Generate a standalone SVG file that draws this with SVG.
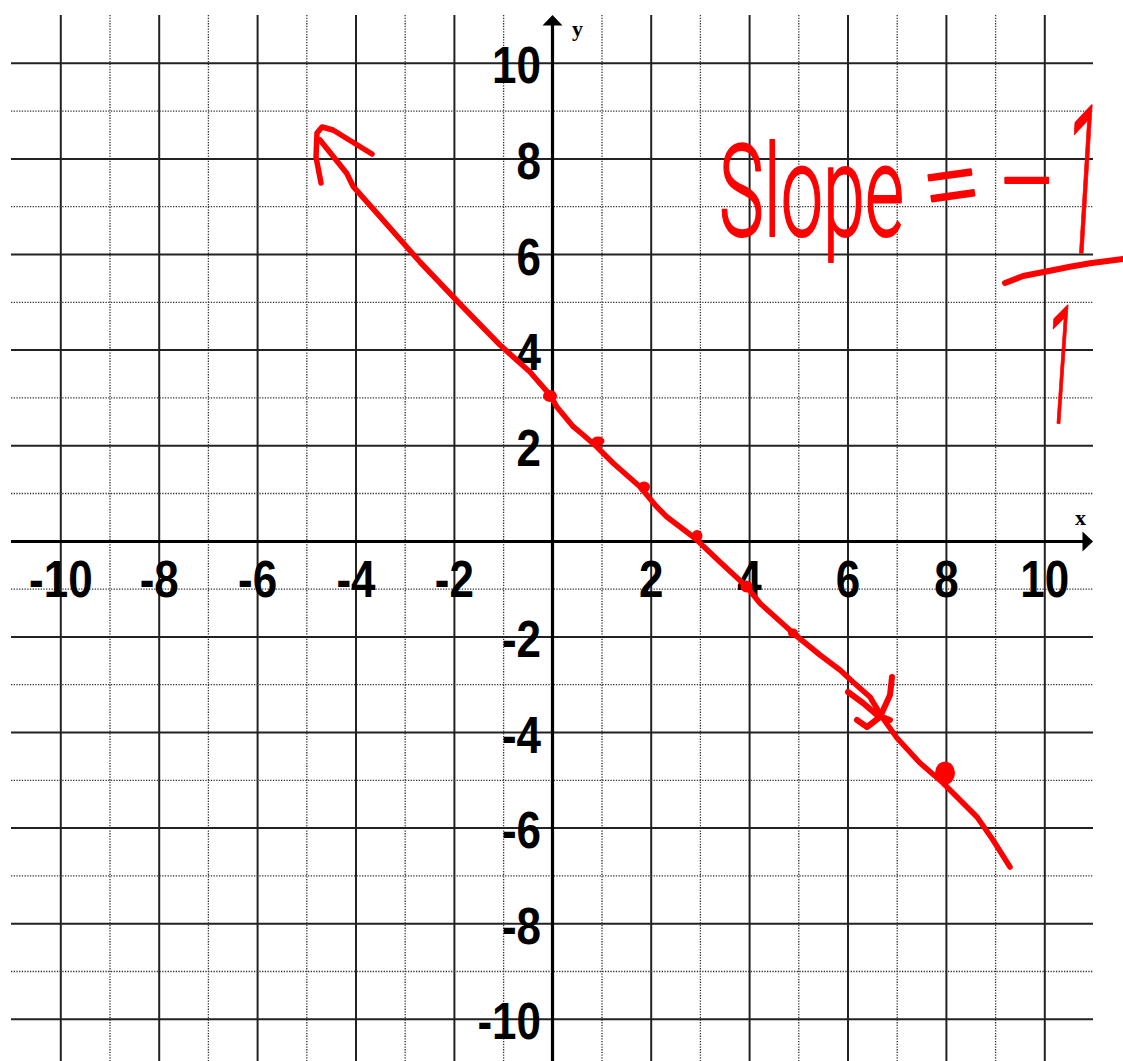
<svg xmlns="http://www.w3.org/2000/svg" width="1123" height="1061" viewBox="0 0 1123 1061">
<style>
.s{stroke:#222;stroke-width:2;fill:none}
.d{stroke:#333;stroke-width:1.3;stroke-dasharray:1.3 1.4;fill:none}
.ax{stroke:#000;stroke-width:3.2;fill:none}
.lbl{font-family:"Liberation Sans",Arial,sans-serif;font-weight:bold;font-size:44px;fill:#000}
.axl{font-family:"Liberation Serif","Times New Roman",serif;font-weight:bold;font-size:22px;fill:#000}
.red{fill:none;stroke:#f00;stroke-width:6;stroke-linecap:round;stroke-linejoin:round}
.dot{fill:#f00}
.hw{font-family:Roboto,"Liberation Sans",sans-serif;font-weight:300;fill:#f00;stroke:#f00;stroke-width:2;stroke-linejoin:round}
</style>
<rect width="1123" height="1061" fill="#fff"/>
<g id="grid">
<line class="s" x1="60.8" y1="15" x2="60.8" y2="1061"/>
<line class="d" x1="110" y1="15" x2="110" y2="1061"/>
<line class="s" x1="159.2" y1="15" x2="159.2" y2="1061"/>
<line class="d" x1="208.4" y1="15" x2="208.4" y2="1061"/>
<line class="s" x1="257.6" y1="15" x2="257.6" y2="1061"/>
<line class="d" x1="306.8" y1="15" x2="306.8" y2="1061"/>
<line class="s" x1="356" y1="15" x2="356" y2="1061"/>
<line class="d" x1="405.2" y1="15" x2="405.2" y2="1061"/>
<line class="s" x1="454.4" y1="15" x2="454.4" y2="1061"/>
<line class="d" x1="503.6" y1="15" x2="503.6" y2="1061"/>
<line class="d" x1="602" y1="15" x2="602" y2="1061"/>
<line class="s" x1="651.2" y1="15" x2="651.2" y2="1061"/>
<line class="d" x1="700.4" y1="15" x2="700.4" y2="1061"/>
<line class="s" x1="749.6" y1="15" x2="749.6" y2="1061"/>
<line class="d" x1="798.8" y1="15" x2="798.8" y2="1061"/>
<line class="s" x1="848" y1="15" x2="848" y2="1061"/>
<line class="d" x1="897.2" y1="15" x2="897.2" y2="1061"/>
<line class="s" x1="946.4" y1="15" x2="946.4" y2="1061"/>
<line class="d" x1="995.6" y1="15" x2="995.6" y2="1061"/>
<line class="s" x1="1044.8" y1="15" x2="1044.8" y2="1061"/>
<line class="s" x1="11" y1="63.3" x2="1093" y2="63.3"/>
<line class="d" x1="11" y1="111.1" x2="1093" y2="111.1"/>
<line class="s" x1="11" y1="158.9" x2="1093" y2="158.9"/>
<line class="d" x1="11" y1="206.7" x2="1093" y2="206.7"/>
<line class="s" x1="11" y1="254.5" x2="1093" y2="254.5"/>
<line class="d" x1="11" y1="302.3" x2="1093" y2="302.3"/>
<line class="s" x1="11" y1="350.1" x2="1093" y2="350.1"/>
<line class="d" x1="11" y1="397.9" x2="1093" y2="397.9"/>
<line class="s" x1="11" y1="445.7" x2="1093" y2="445.7"/>
<line class="d" x1="11" y1="493.5" x2="1093" y2="493.5"/>
<line class="d" x1="11" y1="589.1" x2="1093" y2="589.1"/>
<line class="s" x1="11" y1="636.9" x2="1093" y2="636.9"/>
<line class="d" x1="11" y1="684.7" x2="1093" y2="684.7"/>
<line class="s" x1="11" y1="732.5" x2="1093" y2="732.5"/>
<line class="d" x1="11" y1="780.3" x2="1093" y2="780.3"/>
<line class="s" x1="11" y1="828.1" x2="1093" y2="828.1"/>
<line class="d" x1="11" y1="875.9" x2="1093" y2="875.9"/>
<line class="s" x1="11" y1="923.7" x2="1093" y2="923.7"/>
<line class="d" x1="11" y1="971.5" x2="1093" y2="971.5"/>
<line class="s" x1="11" y1="1019.3" x2="1093" y2="1019.3"/>
</g>
<g id="axes">
<line class="ax" x1="552.5" y1="1061" x2="552.5" y2="24"/>
<polygon points="552.5,15 542.5,25.5 562.5,25.5" fill="#000"/>
<line class="ax" x1="11" y1="541.5" x2="1084" y2="541.5"/>
<polygon points="1093,541.5 1082.5,531.5 1082.5,551.5" fill="#000"/>
<text class="axl" x="572" y="36">y</text>
<text class="axl" x="1075" y="525">x</text>
</g>
<g id="xlabels" class="lbl" text-anchor="middle">
<text transform="translate(60.8,597.4) scale(1,1.17)">-10</text>
<text transform="translate(159.2,597.4) scale(1,1.17)">-8</text>
<text transform="translate(257.6,597.4) scale(1,1.17)">-6</text>
<text transform="translate(356,597.4) scale(1,1.17)">-4</text>
<text transform="translate(454.4,597.4) scale(1,1.17)">-2</text>
<text transform="translate(651.2,597.4) scale(1,1.17)">2</text>
<text transform="translate(749.6,597.4) scale(1,1.17)">4</text>
<text transform="translate(848,597.4) scale(1,1.17)">6</text>
<text transform="translate(946.4,597.4) scale(1,1.17)">8</text>
<text transform="translate(1044.8,597.4) scale(1,1.17)">10</text>
</g>
<g id="ylabels" class="lbl" text-anchor="end">
<text transform="translate(541,83.3) scale(1,1.17)">10</text>
<text transform="translate(541,178.9) scale(1,1.17)">8</text>
<text transform="translate(541,274.5) scale(1,1.17)">6</text>
<text transform="translate(541,370.1) scale(1,1.17)">4</text>
<text transform="translate(541,465.7) scale(1,1.17)">2</text>
<text transform="translate(541,656.9) scale(1,1.17)">-2</text>
<text transform="translate(541,752.5) scale(1,1.17)">-4</text>
<text transform="translate(541,848.1) scale(1,1.17)">-6</text>
<text transform="translate(541,943.7) scale(1,1.17)">-8</text>
<text transform="translate(541,1039.3) scale(1,1.17)">-10</text>
</g>
<g id="line-annotation">
<path class="red" style="stroke-width:5.5" d="M321,183 L316,157 L317,133 L322,127 L333,130 L372,154"/>
<path class="red" style="stroke-width:5.5" d="M320,140 L346.7,173.3 L353.3,186.7 L380,216.7 L420,262 L460,304 L500,345 L530,372 L550,395 L556.7,406.7 L573.3,426.7 L583.3,435 L596.7,446.7 L613.3,463.3 L640,486.7 L656.7,506.7 L666.7,516.7 L695,538.3 L720,562 L746.7,586.7 L760,603.3 L793,633 L820,655 L840,670 L853,682 L870,697 L882,717 L897,738 L920,763 L943,783 L960,800 L977,817 L993,840 L1010,867"/>
<path class="red" d="M848,692 L863,703 L877,715 L890,720"/>
<path class="red" d="M892,677 L890,695 L880,717 L867,727 L857,720"/>
<ellipse class="dot" cx="550" cy="396" rx="7" ry="6"/>
<ellipse class="dot" cx="598" cy="441" rx="6.5" ry="4.5"/>
<ellipse class="dot" cx="644" cy="487" rx="6" ry="5.5"/>
<ellipse class="dot" cx="697" cy="536" rx="5.5" ry="6"/>
<ellipse class="dot" cx="746.5" cy="586.5" rx="6" ry="6"/>
<ellipse class="dot" cx="793" cy="633" rx="5" ry="4.5"/>
<ellipse class="dot" cx="945" cy="773" rx="10" ry="11.5"/>
</g>
<g id="slope-text">
<text class="hw" transform="translate(719,236) scale(0.59,1)" font-size="128">Slope</text>
<text class="hw" transform="rotate(-8,951,182)" x="951" y="220" font-size="105" text-anchor="middle">=</text>
<text class="hw" x="1027" y="218" font-size="105" text-anchor="middle">−</text>
<text class="hw" transform="rotate(3.5,1087,180) translate(1066,253) scale(0.31,1)" font-size="207">1</text>
<path class="red" d="M1005,283 L1023,276 L1045,271.7 L1070,266.7 L1090,263.3 L1123,259"/>
<text class="hw" transform="rotate(3.9,1064,364) translate(1046,423) scale(0.324,1)" font-size="165">1</text>
</g>
</svg>
